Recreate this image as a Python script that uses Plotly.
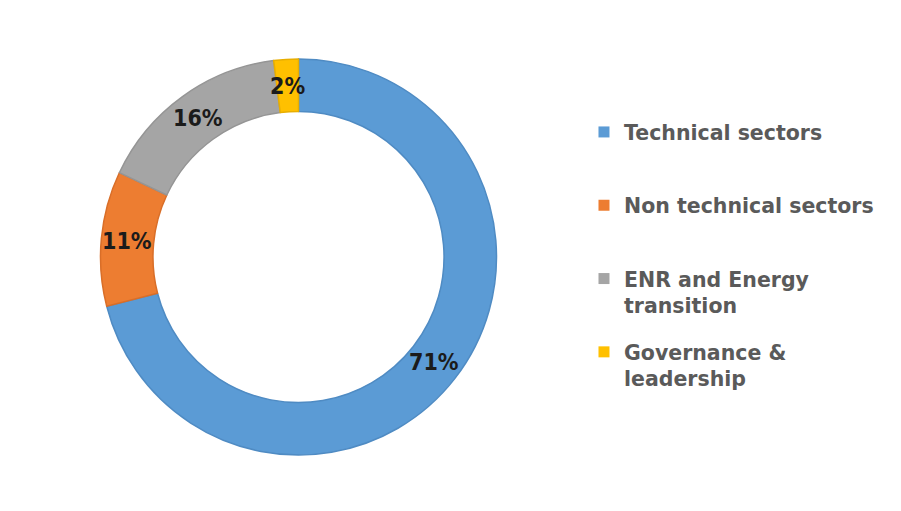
import math
import plotly.graph_objects as go

categories = ["Technical sectors", "Non technical sectors", "ENR and Energy transition", "Governance & leadership"]
legend_labels = ["Technical sectors<br> ", "Non technical sectors<br> ", "ENR and Energy<br>transition", "Governance &<br>leadership"]
values = [71, 11, 16, 2]
colors = ["#5B9BD5", "#ED7D31", "#A5A5A5", "#FFC000"]
edge_colors = ["#4F8BC3", "#D96E28", "#959595", "#E8AE00"]

W, H = 893, 503
HOLE = 0.735
DOM_X = [0.10358, 0.54703]
DOM_Y = [0.11133, 0.89861]

fig = go.Figure()

fig.add_trace(go.Pie(
    labels=categories,
    values=values,
    hole=HOLE,
    sort=False,
    direction="clockwise",
    rotation=0,
    marker=dict(colors=colors, line=dict(color=edge_colors, width=1.5)),
    textinfo="none",
    domain=dict(x=DOM_X, y=DOM_Y),
    showlegend=False,
))

# percentage labels placed at each slice's mid-angle, in the middle of the ring
cx = (DOM_X[0] + DOM_X[1]) / 2 * W
cy = (DOM_Y[0] + DOM_Y[1]) / 2 * H
R = min((DOM_X[1] - DOM_X[0]) * W, (DOM_Y[1] - DOM_Y[0]) * H) / 2
r_mid = R * (1 + HOLE) / 2
total = sum(values)
cum = 0
for v in values:
    f = (cum + v / 2) / total
    cum += v
    th = 2 * math.pi * f
    px = cx + r_mid * math.sin(th)
    py = cy + r_mid * math.cos(th)
    fig.add_annotation(
        x=px / W, y=py / H, xref="paper", yref="paper",
        text=f"{round(100 * v / total)}%", showarrow=False,
        xanchor="center", yanchor="middle",
        font=dict(family="DejaVu Sans Condensed", size=23, color="#1b1b1b", weight="bold"),
    )

for lab, col in zip(legend_labels, colors):
    fig.add_trace(go.Scatter(
        x=[None], y=[None], mode="markers", name=lab,
        marker=dict(symbol="square", size=11, color=col),
        legendgroup=lab, showlegend=True,
    ))

fig.update_layout(
    width=W, height=H,
    margin=dict(l=0, r=0, t=0, b=0),
    paper_bgcolor="white",
    plot_bgcolor="rgba(0,0,0,0)",
    xaxis=dict(visible=False, range=[0, 1]),
    yaxis=dict(visible=False, range=[0, 1]),
    legend=dict(
        x=0.645, xanchor="left", y=0.793, yanchor="top",
        font=dict(family="DejaVu Sans", size=20.5, color="#5a5a5a", weight="bold"),
        valign="top", tracegroupgap=17, bgcolor="rgba(0,0,0,0)",
    ),
)

fig.write_html("out.html")
